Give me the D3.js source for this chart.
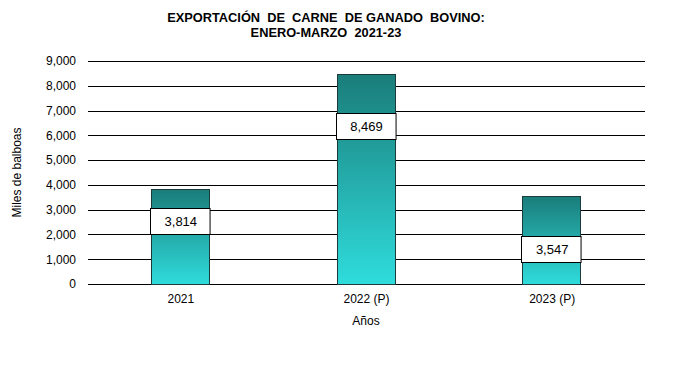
<!DOCTYPE html>
<html>
<head>
  <title>Exportación de carne de ganado bovino</title>
  <style>
    body { margin: 0; background: #fff; }
    #chart text { font-family: Arial, "Liberation Sans", sans-serif; fill: #000; }
    #chart text.title { white-space: pre; }
  </style>
  <script src="https://d3js.org/d3.v7.min.js"></script>
</head>
<body>
  <div id="chart"></div>
  <script>
    // data
    var years = ["2021", "2022 (P)", "2023 (P)"];
    var values = [3814, 8469, 3547];
    // where the value box sits, in data units (box centre)
    var labelAt = [2540, 6380, 1410];
    var yTicks = [0, 1000, 2000, 3000, 4000, 5000, 6000, 7000, 8000, 9000];

    var W = 683, H = 370;
    var margin = { top: 61, right: 38, bottom: 86, left: 88 };
    var width = W - margin.left - margin.right;
    var height = H - margin.top - margin.bottom;

    var svg = d3.select("#chart").append("svg")
      .attr("width", W).attr("height", H);

    var defs = svg.append("defs");
    var grad = defs.append("linearGradient")
      .attr("id", "barGrad").attr("x1", 0).attr("y1", 0).attr("x2", 0).attr("y2", 1);
    grad.append("stop").attr("offset", "0%").attr("stop-color", "#1a7d7a");
    grad.append("stop").attr("offset", "100%").attr("stop-color", "#2fdcdc");

    // title
    svg.append("text").attr("class", "title").attr("x", 326).attr("y", 22).attr("text-anchor", "middle")
      .style("font-size", "12.8px").style("font-weight", "bold")
      .text("EXPORTACIÓN  DE  CARNE  DE GANADO  BOVINO:");
    svg.append("text").attr("class", "title").attr("x", 326).attr("y", 37).attr("text-anchor", "middle")
      .style("font-size", "12.8px").style("font-weight", "bold")
      .text("ENERO-MARZO  2021-23");

    var g = svg.append("g")
      .attr("transform", "translate(" + margin.left + "," + margin.top + ")");

    var x = d3.scaleBand().domain(years).range([0, width]).paddingInner(0.69).paddingOuter(0.345);
    var y = d3.scaleLinear().domain([0, 9000]).range([height, 0]);

    // gridlines
    g.append("g").selectAll("line").data(yTicks).enter().append("line")
      .attr("x1", 0).attr("x2", width)
      .attr("y1", function(d) { return Math.round(y(d)) + 0.5; })
      .attr("y2", function(d) { return Math.round(y(d)) + 0.5; })
      .attr("stroke", "#000").attr("stroke-width", 1);

    // y axis labels
    var yAxis = d3.axisLeft(y).tickValues(yTicks).tickSize(0).tickPadding(12)
      .tickFormat(d3.format(","));
    g.append("g").call(yAxis)
      .call(function(s) { s.select(".domain").remove(); })
      .selectAll("text").style("font-size", "12px");

    // bars
    g.selectAll("rect.bar").data(values).enter().append("rect")
      .attr("class", "bar")
      .attr("x", function(d, i) { return Math.round(x(years[i])) - 0.5; })
      .attr("y", function(d) { return Math.round(y(d)) + 0.5; })
      .attr("width", Math.round(x.bandwidth()))
      .attr("height", function(d) { return Math.round(height - y(d)); })
      .attr("fill", "url(#barGrad)")
      .attr("stroke", "#1c3c3c").attr("stroke-width", 1);

    // value boxes
    var boxH = 26, boxW = x.bandwidth() + 2;
    var lab = g.selectAll("g.lab").data(values).enter().append("g").attr("class", "lab");
    lab.append("rect")
      .attr("x", function(d, i) { return Math.round(x(years[i]) - 1) - 0.5; })
      .attr("y", function(d, i) { return Math.round(y(labelAt[i]) - boxH / 2) + 0.5; })
      .attr("width", boxW).attr("height", boxH)
      .attr("fill", "#fff").attr("stroke", "#000").attr("stroke-width", 1);
    lab.append("text")
      .attr("x", function(d, i) { return x(years[i]) + x.bandwidth() / 2; })
      .attr("y", function(d, i) { return y(labelAt[i]) + 5; })
      .attr("text-anchor", "middle").style("font-size", "13px")
      .text(function(d) { return d3.format(",")(d); });

    // x axis labels
    var xAxis = d3.axisBottom(x).tickSize(0).tickPadding(10);
    g.append("g").attr("transform", "translate(0," + height + ")").call(xAxis)
      .call(function(s) { s.select(".domain").remove(); })
      .selectAll("text").style("font-size", "12px");

    // axis titles
    svg.append("text").attr("x", 366).attr("y", 325).attr("text-anchor", "middle")
      .style("font-size", "12px").text("Años");
    svg.append("text")
      .attr("transform", "translate(21," + (margin.top + height / 2) + ") rotate(-90)")
      .attr("text-anchor", "middle").style("font-size", "12px").text("Miles de balboas");
  </script>
</body>
</html>
